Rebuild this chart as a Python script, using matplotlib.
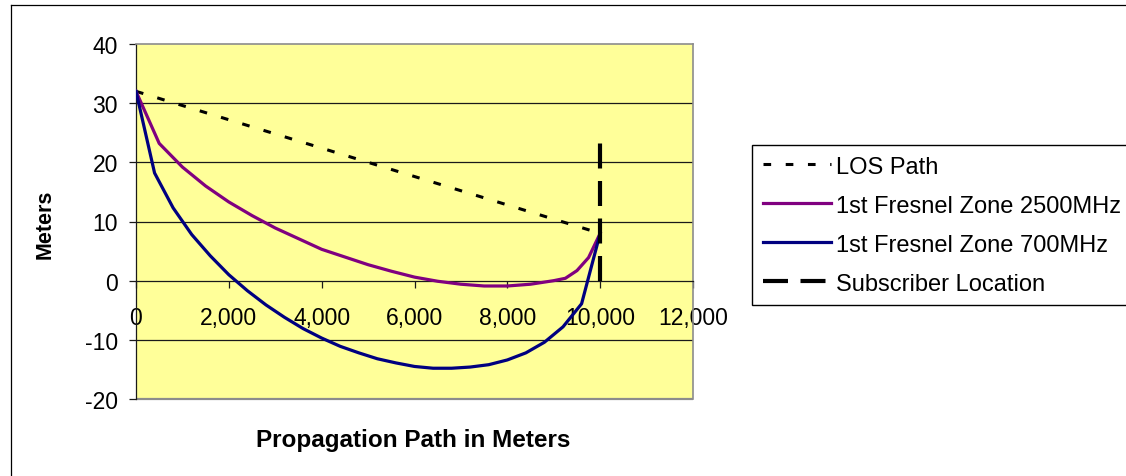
import matplotlib
matplotlib.use('Agg')
import matplotlib.pyplot as plt
from matplotlib.lines import Line2D
from matplotlib.patches import Rectangle
from matplotlib.ticker import FuncFormatter

plt.rcParams['font.family'] = ['Liberation Sans', 'DejaVu Sans']
plt.rcParams['lines.scale_dashes'] = False

# ---- data ----
los_x = [0, 10000]
los_y = [32, 8]

f2500_x = [0, 500, 1000, 1500, 2000, 2500, 3000, 3500, 4000, 4500, 5000,
           5500, 6000, 6500, 7000, 7500, 8000, 8500, 9000, 9250, 9500, 9750, 10000]
f2500_y = [32.0, 23.2, 19.2, 16.0, 13.3, 11.0, 8.9, 7.1, 5.3, 4.0, 2.7,
           1.6, 0.6, -0.1, -0.6, -0.9, -0.9, -0.6, 0.0, 0.4, 1.7, 3.9, 8.0]

f700_x = [0, 400, 800, 1200, 1600, 2000, 2400, 2800, 3200, 3600, 4000, 4400, 4800,
          5200, 5600, 6000, 6400, 6800, 7200, 7600, 8000, 8400, 8800, 9200, 9600, 10000]
f700_y = [32.0, 18.2, 12.3, 7.8, 4.2, 1.0, -1.7, -4.1, -6.2, -8.1, -9.7, -11.1, -12.2,
          -13.2, -13.9, -14.5, -14.8, -14.8, -14.6, -14.2, -13.4, -12.2, -10.4, -7.8, -3.9, 8.0]

sub_x = [10000, 10000]
sub_y = [0, 24]

series_labels = ['LOS Path', '1st Fresnel Zone 2500MHz',
                 '1st Fresnel Zone 700MHz', 'Subscriber Location']
x_ticks = [0, 2000, 4000, 6000, 8000, 10000, 12000]
y_ticks = [-20, -10, 0, 10, 20, 30, 40]

# ---- figure ----
W, H = 1126, 477
fig = plt.figure(figsize=(W / 100, H / 100), dpi=100)
fig.patch.set_facecolor('white')

left, right, top, bottom = 136, 693, 45, 400
ax = fig.add_axes([left / W, 1 - bottom / H, (right - left) / W, (bottom - top) / H])
ax.set_facecolor('#FFFF99')

ax.set_xlim(0, 12000)
ax.set_ylim(-20, 40)
ax.set_xticks(x_ticks)
ax.set_yticks(y_ticks)
ax.xaxis.set_major_formatter(FuncFormatter(lambda v, p: f'{int(v):,}'))
ax.yaxis.set_major_formatter(FuncFormatter(lambda v, p: f'{int(v)}'))

# gridlines
for yv in y_ticks:
    if yv not in (-20, 0, 40):
        ax.axhline(yv, color='#1a1a1a', lw=0.9, zorder=1)

# spines
for s in ('top', 'right'):
    ax.spines[s].set_color('#8c8c8c')
    ax.spines[s].set_linewidth(1.2)
ax.spines['bottom'].set_position(('data', 0))
ax.spines['bottom'].set_color('#1a1a1a')
ax.spines['bottom'].set_linewidth(0.9)
ax.spines['left'].set_color('#1a1a1a')
ax.spines['left'].set_linewidth(0.9)
ax.add_patch(Rectangle((0, 0), 1, 0, transform=ax.transAxes, fill=False,
                       edgecolor='#8c8c8c', lw=1.6, clip_on=False, zorder=0.5))

ax.tick_params(axis='x', direction='out', length=5, width=0.9, color='#1a1a1a',
               labelsize=16.5, pad=13.5)
ax.tick_params(axis='y', direction='out', length=5, width=0.9, color='#1a1a1a',
               labelsize=16.5, pad=8)

# series
ax.plot(los_x, los_y, color='black', lw=2.2, dashes=(5.5, 10.5), zorder=3,
        label=series_labels[0], solid_capstyle='butt', dash_capstyle='butt')
ax.plot(f2500_x, f2500_y, color='#800080', lw=2.3, zorder=3, label=series_labels[1])
ax.plot(f700_x, f700_y, color='#000080', lw=2.3, zorder=3, label=series_labels[2])
ax.plot(sub_x, sub_y, color='black', lw=3.0, dashes=(18, 9), zorder=4,
        label=series_labels[3], dash_capstyle='butt')

# axis titles
fig.text(45 / W, 1 - 224 / H, 'Meters', rotation=90, ha='center', va='center',
         fontsize=15.5, fontweight='bold')
fig.text(413 / W, 1 - 441 / H, 'Propagation Path in Meters', ha='center', va='center',
         fontsize=17.5, fontweight='bold')

# legend
leg = fig.legend(loc='upper left', bbox_to_anchor=(752 / W, 1 - 146 / H),
                 bbox_transform=fig.transFigure, fontsize=17, frameon=True,
                 fancybox=False, shadow=False, framealpha=1, edgecolor='black',
                 borderpad=0.45, handlelength=2.9, handletextpad=0.2,
                 labelspacing=0.72, borderaxespad=0)
leg.get_frame().set_linewidth(1.0)

# chart-area border
fig.add_artist(Line2D([10.5 / W, 10.5 / W], [0, 1 - 5.5 / H], transform=fig.transFigure,
                      color='black', lw=0.9))
fig.add_artist(Line2D([10.5 / W, 1], [1 - 5.5 / H, 1 - 5.5 / H], transform=fig.transFigure,
                      color='black', lw=0.9))

fig.savefig('out.png', dpi=100)
